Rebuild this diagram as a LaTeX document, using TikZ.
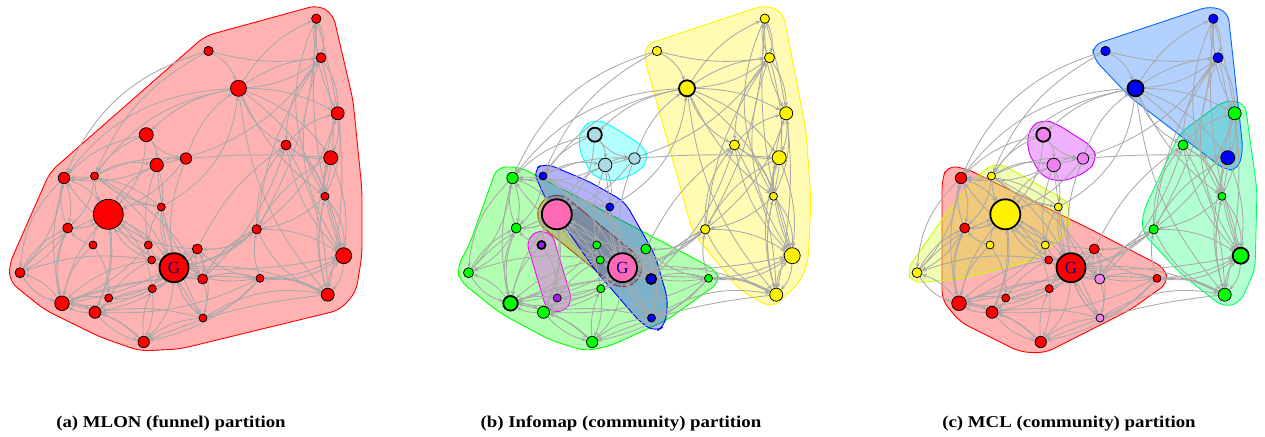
\documentclass[tikz,border=0pt]{standalone}
\usepackage{fontspec}
\setmainfont{Liberation Serif}
\usetikzlibrary{arrows.meta}
\pgfdeclarelayer{hulllayer}
\pgfdeclarelayer{edgelayer}
\pgfsetlayers{hulllayer,edgelayer,main}

\definecolor{edgegray}{RGB}{169,169,169}
\definecolor{gdark}{RGB}{0,0,139}
\definecolor{vlightblue}{RGB}{173,216,230}
\definecolor{vhotpink}{RGB}{255,105,180}
\definecolor{vpurple}{RGB}{160,32,240}
\definecolor{vviolet}{RGB}{238,130,238}
\definecolor{hcy}{RGB}{0,255,255}
\definecolor{hmg}{RGB}{255,0,255}
\definecolor{hyg}{RGB}{204,255,0}
\definecolor{hgr}{RGB}{0,255,102}
\definecolor{hbl}{RGB}{0,102,255}
\definecolor{hpu}{RGB}{204,0,255}

\tikzset{
  lonedge/.style={draw=edgegray, line width=0.85pt, -{Stealth[length=5pt,width=4pt]}},
  vtx/.style={circle, draw=black, inner sep=0pt, outer sep=0pt},
  hull/.style={draw=#1, fill=#1, fill opacity=0.3, line width=0.9pt, rounded corners=9pt},
  caption/.style={font=\fontsize{16.5}{18}\selectfont\bfseries, anchor=base},
}

% vertex id / x / y / diameter (panel-local coordinates)
\newcommand\vtxdata{1/316.3/18.7/9.4, 2/208.5/51/9.4, 3/321/57.7/10, 4/238.5/88.3/16,
 5/337.7/113.3/13, 6/146.3/134.7/14, 7/286/145/10, 8/330.7/157.7/14, 9/186/158.5/11.4,
 10/156.7/165/13.4, 11/64/178/11.4, 12/94.5/176/8, 13/325/196.3/8, 14/108.3/214.3/30,
 15/161.3/207/8, 16/67.7/228/10, 17/256.7/229.3/9.4, 18/93/245/8, 19/148.3/245/8,
 20/197.3/249/10, 21/343.7/255.7/16, 22/151.7/260/8, 23/174/267.7/29, 24/20/272.7/10,
 25/202.7/279/10, 26/260/278.3/8, 27/152.3/288.7/8, 28/327.7/294.7/13, 29/108.7/298/8,
 30/62/303.3/14.6, 31/95/312.3/12, 32/203/318/8, 33/143.7/342/11.4}

% source / target / bend
\newcommand\edgelist{1/3/15, 3/1/15, 1/5/-10, 1/21/-8, 1/28/10, 4/1/12, 4/3/10, 4/3/-12,
 2/3/-8, 2/4/15, 4/5/10, 4/7/-15, 4/8/12, 4/13/-10, 4/21/15, 4/28/-12, 7/5/12, 7/8/-15,
 7/13/15, 7/21/-12, 7/28/10, 5/8/10, 5/21/-15, 8/21/10, 8/28/-12, 13/21/15, 13/28/-10,
 13/8/12, 17/7/15, 17/5/-12, 17/3/10, 17/21/12, 17/28/-15, 17/1/-10, 3/5/12, 3/7/-15,
 13/5/-12, 28/21/15, 21/28/15, 28/13/10, 3/13/10, 1/13/-20, 3/21/-20,
 26/17/10, 26/28/12, 26/21/-8, 20/17/-15, 25/17/12, 25/7/-10, 23/21/-5, 23/28/10,
 23/17/-12, 20/7/10, 9/8/3, 32/28/15, 15/4/-20, 9/4/12, 10/3/-15, 17/20/15,
 4/11/-18, 4/12/-16, 2/11/-18, 4/6/-12, 2/12/-14, 6/10/15, 6/9/-15, 10/9/12, 12/9/10,
 10/32/-8, 12/10/15, 10/15/10, 9/23/-10, 6/14/15, 10/14/-12, 9/14/10,
 11/16/12, 11/24/-15, 16/24/12, 24/30/-15, 30/31/12, 31/30/12, 30/16/12, 11/30/-10,
 16/30/-15, 19/11/12, 22/24/-10, 27/30/12, 27/31/-12, 26/31/10, 26/30/-8, 20/31/15,
 26/33/12, 24/16/12, 12/11/10, 12/14/-10, 11/14/12, 16/14/-12, 14/16/12, 18/14/12,
 19/14/-10, 22/14/15, 15/14/-12, 20/14/12, 23/14/10, 14/23/10, 27/14/-15, 14/30/-10,
 14/31/12, 18/29/12, 29/30/-10, 29/31/12, 18/30/-12, 12/16/15, 6/11/-12, 10/11/12,
 15/11/-15, 12/15/-10, 12/25/12, 15/25/-10, 25/32/12, 15/32/-12, 12/23/10, 15/23/-10,
 32/23/12, 23/25/12, 23/20/-12, 20/23/-12, 25/20/15, 23/32/-12, 22/23/12, 19/23/-10,
 27/23/12, 23/27/12, 27/33/10, 33/27/10, 32/33/-12, 23/33/15, 31/33/-12, 30/33/12,
 22/30/-12, 19/30/10, 27/29/12, 22/29/-10, 25/30/-8, 20/30/10, 26/25/-12, 26/20/12,
 17/25/-12, 17/23/10, 23/26/-10, 20/25/12, 32/20/-15, 25/22/12, 13/17/12, 8/17/-12,
 21/26/15, 28/26/-10, 28/33/-6, 16/11/12, 24/11/-12, 30/24/-12, 18/16/12, 19/15/10,
 22/19/12, 10/19/-10, 6/12/-12, 24/14/10, 31/14/-10, 29/23/-12, 33/31/-10, 26/32/10,
 32/31/-8}

\newcommand\setcol[3]{\foreach \k in {#3}{\expandafter\xdef\csname cl#1\k\endcsname{#2}}}
\newcommand\setthick[2]{\foreach \k in {#2}{\expandafter\gdef\csname thick#1\k\endcsname{}}}

\setcol{a}{red}{1,...,33}
\setthick{a}{23}
\setcol{b}{yellow}{1,2,3,4,5,7,8,13,17,21,28}
\setcol{b}{vlightblue}{6,9,10}
\setcol{b}{blue}{12,15,25,32}
\setcol{b}{vhotpink}{14,23}
\setcol{b}{vpurple}{18,29}
\setcol{b}{green}{11,16,19,20,22,24,26,27,30,31,33}
\setthick{b}{4,6,14,18,23,25,30}
\setcol{c}{blue}{1,2,3,4,8}
\setcol{c}{green}{5,7,13,17,21,28}
\setcol{c}{vviolet}{6,9,10,25,32}
\setcol{c}{yellow}{12,14,15,18,19,24}
\setcol{c}{red}{11,16,20,22,23,26,27,29,30,31,33}
\setthick{c}{4,6,14,21,23}

% one copy of the network: vertices, curved arcs and the G label
\newcommand\panel[2]{%
  \begin{scope}[xshift=#2]
    \foreach \i/\x/\y/\d in \vtxdata {
      \edef\fc{\csname cl#1\i\endcsname}
      \ifcsname thick#1\i\endcsname \def\lw{1.8pt}\else\def\lw{0.75pt}\fi
      \node[vtx, minimum size=\d pt, fill=\fc, line width=\lw] (#1\i) at (\x,\y) {};
    }
    \begin{pgfonlayer}{edgelayer}
      \foreach \s/\t/\b in \edgelist {
        \pgfmathsetmacro\bb{1.35*\b}
        \draw[lonedge] (#1\s) to[bend left=\bb] (#1\t);}
    \end{pgfonlayer}
    \node[font=\fontsize{17}{17}\selectfont, text=gdark] (#1G) at (#123) {G};
  \end{scope}}

% hull around vertices 6, 9 and 10 (panel-local)
\newcommand\smallhull[2]{%
  \begin{scope}[xshift=#1]
    \draw[hull=#2] (132,128) -- (146,119) -- (160,124) -- (196,147) -- (200,160) --
      (190,172) -- (165,182) -- (145,177) -- (130,150) -- cycle;
  \end{scope}}

\begin{document}
\begin{tikzpicture}[x=1pt,y=-1pt]
\useasboundingbox (0,0) rectangle (1265,436);

\begin{pgfonlayer}{hulllayer}
  % (a) one funnel
  \draw[hull=red] (205,36) -- (318,5) -- (333,14) -- (353,100) -- (362,190) -- (362,255) --
    (356,292) -- (340,310) -- (180,349) -- (140,351) -- (100,337) -- (45,310) --
    (10,282) -- (9,265) -- (50,172) -- cycle;
  % (b) Infomap communities
  \begin{scope}[shift={(556.8,214.3)}, rotate=-39.1]
    \draw[hull=red, rounded corners=18.9pt] (-19,-19) rectangle (103.7,19);
  \end{scope}
  \draw[hull=yellow] (645,45) -- (765,5) -- (783,12) -- (806,130) -- (811,200) --
    (808,262) -- (800,282) -- (772,308) -- (740,290) -- (693,233) -- (645,60) -- cycle;
  \draw[hull=green] (497,167) -- (520,167) -- (716,270) -- (720,282) -- (667,320) --
    (610,346) -- (585,351) -- (550,340) -- (500,313) -- (460,281) -- (457,268) --
    (470,243) -- cycle;
  \smallhull{448.5pt}{hcy}
  \draw[hull=blue] (533,170) -- (545,163) -- (590,182) -- (625,202) -- (655,255) --
    (668,300) -- (665,326) -- (655,332) -- (640,322) -- (595,270) -- (545,198) -- cycle;
  \begin{scope}[shift={(541.5,245)}, rotate=-73.5]
    \draw[hull=hmg, rounded corners=13.4pt] (-13.5,-13.5) rectangle (68.8,13.5);
  \end{scope}
  % (c) MCL communities
  \draw[hull=red] (947,166) -- (965,168) -- (1088,228) -- (1165,268) -- (1168,283) --
    (1130,310) -- (1045,353) -- (1020,352) -- (960,322) -- (942,300) -- (942,180) -- cycle;
  \draw[hull=hyg] (985,168) -- (1000,163) -- (1070,203) -- (1068,232) -- (1035,260) --
    (960,279) -- (912,283) -- (907,270) -- (945,215) -- cycle;
  \draw[hull=hgr] (1225,100) -- (1245,103) -- (1257,190) -- (1255,270) -- (1240,303) --
    (1223,307) -- (1180,273) -- (1142,232) -- (1143,212) -- (1180,133) -- cycle;
  \draw[hull=hbl] (1093,45) -- (1210,6) -- (1228,12) -- (1243,150) -- (1238,170) --
    (1225,170) -- (1130,97) -- (1093,58) -- cycle;
  \smallhull{897pt}{hpu}
\end{pgfonlayer}

\panel{a}{0pt}
\panel{b}{448.5pt}
\panel{c}{897pt}

\node[caption] (capa) at (171,427) {\scalebox{1.14}[1]{(a) MLON (funnel) partition}};
\node[caption] (capb) at (621,427) {\scalebox{1.14}[1]{(b) Infomap (community) partition}};
\node[caption] (capc) at (1069,427) {\scalebox{1.14}[1]{(c) MCL (community) partition}};
\end{tikzpicture}
\end{document}
